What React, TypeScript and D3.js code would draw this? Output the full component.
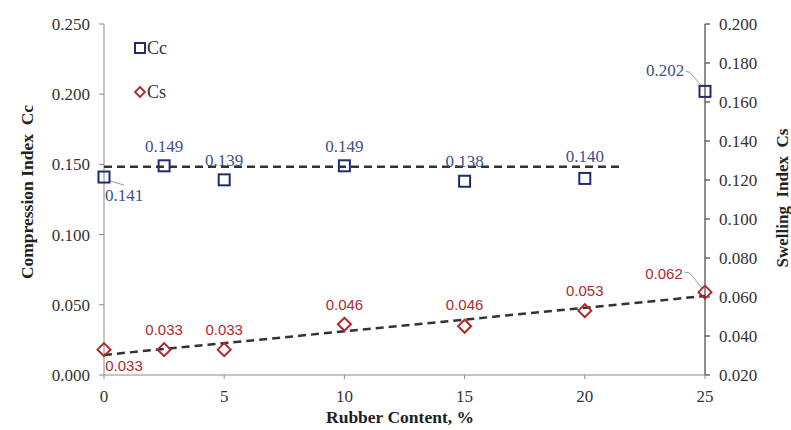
import React from "react";
import * as d3 from "d3";

const rubber = [0, 2.5, 5, 10, 15, 20, 25];
const ccValues = [0.141, 0.149, 0.139, 0.149, 0.138, 0.14, 0.202];
const csValues = [0.033, 0.033, 0.033, 0.046, 0.045, 0.053, 0.0625];
const ccLabels = ["0.141", "0.149", "0.139", "0.149", "0.138", "0.140", "0.202"];
const csLabels = ["0.033", "0.033", "0.033", "0.046", "0.046", "0.053", "0.062"];
const ccTrendX = [0, 21.5];
const ccTrendY = [0.1484, 0.1484];
const csTrendX = [0, 25];
const csTrendY = [0.0303, 0.0605];
const xTicks = [0, 5, 10, 15, 20, 25];
const leftTicks = [0, 0.05, 0.1, 0.15, 0.2, 0.25];
const rightTicks = [0.02, 0.04, 0.06, 0.08, 0.1, 0.12, 0.14, 0.16, 0.18, 0.2];

// label placement (layout only)
const ccOffsets: [number, number][] = [[20, 24], [0, -14], [0, -14], [0, -14], [0, -14], [0, -16], [-40, -15]];
const csOffsets: [number, number][] = [[20, 21], [0, -15], [0, -15], [0, -14], [0, -16], [0, -15], [-41, -13]];

const W = 791, H = 430;
const x = d3.scaleLinear().domain([0, 25]).range([104, 705]);
const yL = d3.scaleLinear().domain([0, 0.25]).range([375, 24]);
const yR = d3.scaleLinear().domain([0.02, 0.2]).range([375, 24]);

const serif = "Liberation Serif";
const sans = "Liberation Sans";
const navy = "#1f2c72";
const navyText = "#3e4f8c";
const red = "#b0282b";
const redText = "#b02a30";
const tickColor = "#333";

export default function App() {
  const line = d3.line<[number, number]>().x(d => d[0]).y(d => d[1]);
  const ccTrend = line(ccTrendX.map((v, i) => [x(v), yL(ccTrendY[i])] as [number, number]))!;
  const csTrend = line(csTrendX.map((v, i) => [x(v), yR(csTrendY[i])] as [number, number]))!;
  const diamond = (cx: number, cy: number, r: number) =>
    `M${cx},${cy - r}L${cx + r},${cy}L${cx},${cy + r}L${cx - r},${cy}Z`;
  const sq = 11;
  return (
    <svg width={W} height={H} style={{ position: "absolute", left: 0, top: 0, background: "#fff" }}>
      {/* axes */}
      <line x1={x(0)} x2={x(0)} y1={yL(0.25)} y2={yL(0)} stroke="#8a8a8a" strokeWidth={1} />
      <line x1={x(25)} x2={x(25)} y1={yR(0.2)} y2={yR(0.02)} stroke="#444" strokeWidth={1.2} />
      <line x1={x(0)} x2={x(25)} y1={yL(0)} y2={yL(0)} stroke="#8a8a8a" strokeWidth={1} />
      {leftTicks.map(t => (
        <g key={"l" + t}>
          <line x1={x(0) - 5} x2={x(0)} y1={yL(t)} y2={yL(t)} stroke="#8a8a8a" />
          <text x={90} y={yL(t) + 6} textAnchor="end" fontFamily={serif} fontSize={17} fill={tickColor}>
            {d3.format(".3f")(t)}
          </text>
        </g>
      ))}
      {rightTicks.map(t => (
        <g key={"r" + t}>
          <line x1={x(25)} x2={x(25) + 5} y1={yR(t)} y2={yR(t)} stroke="#444" strokeWidth={1.2} />
          <text x={719} y={yR(t) + 6} textAnchor="start" fontFamily={serif} fontSize={17} fill={tickColor}>
            {d3.format(".3f")(t)}
          </text>
        </g>
      ))}
      {xTicks.map(t => (
        <g key={"x" + t}>
          <line x1={x(t)} x2={x(t)} y1={yL(0)} y2={yL(0) + 4} stroke="#8a8a8a" />
          <text x={x(t)} y={402} textAnchor="middle" fontFamily={serif} fontSize={17} fill={tickColor}>
            {t}
          </text>
        </g>
      ))}
      {/* titles */}
      <text x={400} y={423} textAnchor="middle" fontFamily={serif} fontSize={17.5} fontWeight="bold" fill="#222">
        Rubber Content, %
      </text>
      <text transform={`translate(33,192) rotate(-90)`} textAnchor="middle" fontFamily={serif} fontSize={17.5}
        fontWeight="bold" fill="#222" style={{ whiteSpace: "pre" }}>
        {"Compression Index  Cc"}
      </text>
      <text transform={`translate(788,198) rotate(-90)`} textAnchor="middle" fontFamily={serif} fontSize={17}
        fontWeight="bold" fill="#222" style={{ whiteSpace: "pre" }}>
        {"Swelling  Index  Cs"}
      </text>
      {/* trend lines */}
      <path d={ccTrend} fill="none" stroke="#333" strokeWidth={2.5} strokeDasharray="8,5" />
      <path d={csTrend} fill="none" stroke="#333" strokeWidth={2.5} strokeDasharray="8,5" />
      {/* leader lines */}
      <path d={`M${x(0) + 6},${yL(ccValues[0]) + 4}L${x(0) + 20},${yL(ccValues[0]) + 8}`} stroke="#999" fill="none" />
      <path d={`M${x(25) - 19},${yL(ccValues[6]) - 20}L${x(25) - 15},${yL(ccValues[6]) - 19}L${x(25) - 3},${yL(ccValues[6]) - 5}`} stroke="#999" fill="none" />
      <path d={`M${x(25) - 20},${yR(csValues[6]) - 20}L${x(25) - 15},${yR(csValues[6]) - 19}L${x(25) - 3},${yR(csValues[6]) - 4}`} stroke="#999" fill="none" />
      {/* Cc markers */}
      {rubber.map((r, i) => (
        <rect key={"cc" + i} x={x(r) - sq / 2} y={yL(ccValues[i]) - sq / 2} width={sq} height={sq}
          fill="none" stroke={navy} strokeWidth={2} />
      ))}
      {rubber.map((r, i) => (
        <text key={"ccl" + i} x={x(r) + ccOffsets[i][0]} y={yL(ccValues[i]) + ccOffsets[i][1]} textAnchor="middle"
          fontFamily={serif} fontSize={17} fill={navyText}>
          {ccLabels[i]}
        </text>
      ))}
      {/* Cs markers */}
      {rubber.map((r, i) => (
        <path key={"cs" + i} d={diamond(x(r), yR(csValues[i]), 6.5)} fill="none" stroke={red} strokeWidth={2} />
      ))}
      {rubber.map((r, i) => (
        <text key={"csl" + i} x={x(r) + csOffsets[i][0]} y={yR(csValues[i]) + csOffsets[i][1]} textAnchor="middle"
          fontFamily={sans} fontSize={15} fill={redText}>
          {csLabels[i]}
        </text>
      ))}
      {/* legend */}
      <rect x={135} y={43} width={10} height={10} fill="none" stroke={navy} strokeWidth={2} />
      <text x={147} y={54} fontFamily={serif} fontSize={18} fill="#333">Cc</text>
      <path d={diamond(140, 92, 5)} fill="none" stroke={red} strokeWidth={1.8} />
      <text x={147} y={98} fontFamily={serif} fontSize={18} fill="#333">Cs</text>
    </svg>
  );
}
